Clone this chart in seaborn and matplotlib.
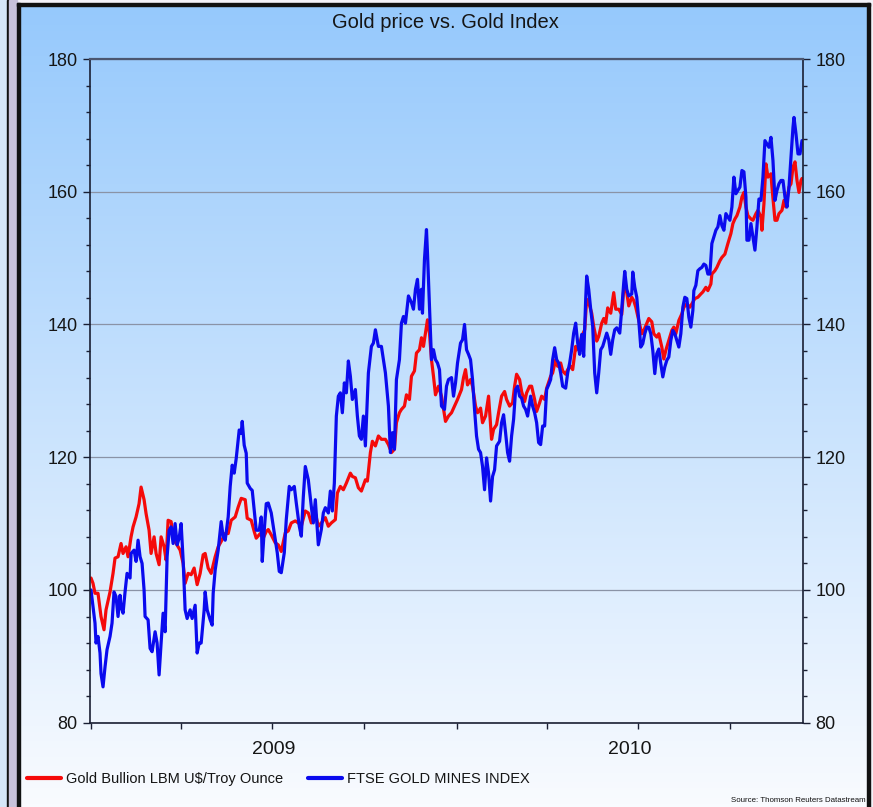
import numpy as np
import pandas as pd
import matplotlib
matplotlib.use("Agg")
import matplotlib.pyplot as plt
import matplotlib.dates as mdates
from matplotlib.ticker import MultipleLocator, NullFormatter
from matplotlib.patches import Rectangle
from matplotlib.lines import Line2D
import seaborn as sns

# ---------------- data ----------------
TITLE = "Gold price vs. Gold Index"
SERIES = ["Gold Bullion LBM U$/Troy Ounce", "FTSE GOLD MINES INDEX"]
COLORS = ["#f50a0a", "#0a0aee"]
START = "2009-01-01"
YEAR_LABELS = ["2009", "2010"]
SOURCE = "Source: Thomson Reuters Datastream"

# days since 2009-01-01
gold_days = [0, 2, 4, 7, 10, 13, 15, 19, 22, 24, 27, 30, 32, 35, 37, 40, 42, 45, 48, 50,
             53, 55, 58, 60, 63, 65, 68, 70, 73, 75, 77, 80, 82, 85, 89, 92, 94, 97, 100, 103,
             106, 109, 112, 114, 117, 120, 124, 127, 130, 134, 137, 140, 144, 147, 150, 154, 156, 160, 163, 165,
             169, 172, 175,
             177, 180, 184, 187, 190, 194, 197, 200, 204, 207, 210, 214, 217, 220, 224, 227, 230, 234, 237, 240,
             244, 246, 249, 252, 255, 259, 261, 264, 267, 270, 274, 276, 279, 281, 284, 287, 290, 294, 297, 300,
             303, 305, 308, 310, 313, 315, 318, 320, 323, 325, 328, 330, 332, 334, 336, 338, 340, 342, 344, 347,
             350, 354, 357,
             360, 363, 366, 370, 372, 374, 376, 379, 381, 384, 386, 389, 391, 394, 397, 400, 402, 405, 407,
             410, 413, 415, 418, 421, 423, 425, 428, 430, 433, 435, 438, 440, 443, 445, 448, 450, 453, 455, 459,
             461, 464, 466, 469, 471, 474, 476, 479, 481, 484, 485, 488, 490, 493, 495, 497, 500, 502, 505, 507,
             510, 512, 514, 516, 519, 522, 524, 527, 530, 532, 534, 537,
             540, 542, 544, 547, 550, 552, 554, 557, 560, 562, 565, 567, 570, 572, 574, 577, 580, 582, 584,
             587, 590, 592, 595, 598, 600, 603, 606, 609, 611, 614, 616, 619, 620, 623, 625, 628, 630, 633, 636,
             639, 641, 643, 645, 648, 650, 652, 654, 656, 659, 661, 664, 666, 669, 670, 672, 674, 676, 679, 680,
             683, 685, 687, 690, 692, 694, 697, 699, 701, 703, 705, 707, 709, 710]
gold_vals = [101.8, 101, 99.5, 99.5, 96, 94, 97, 99.7, 102.5, 104.8, 105, 107, 105.5, 106.5, 105, 108, 109.5, 111, 113, 115.5,
             113.6, 111.5, 109, 105.5, 108, 105.5, 103.8, 108, 106.5, 104.5, 110.5, 110.3, 108, 107, 106, 104, 101, 102.5, 102.3, 103.3,
             100.8, 102.5, 105.3, 105.5, 103.3, 102.5, 105, 106.5, 107.3, 108.5, 108.5, 110.5, 111, 112.5, 113.8, 113.6, 110.8, 110.5, 108.8, 107.8,
             108.5, 107.8, 108.8,
             109.1, 108.3, 107.1, 106.8, 105.8, 108.6, 108.9, 110.1, 110.4, 110.1, 109.6, 111.9, 111.6, 110.1, 111.6, 109.6, 110.1, 110.9, 109.6, 110.1,
             110.6, 114.6, 115.6, 115.1, 116.1, 117.6, 117.1, 116.9, 115.4, 114.9, 116.6, 116.4, 120.7, 122.4, 121.7, 123.2, 122.7, 122.7, 121.9, 120.7,
             121.2, 125.2, 126.7, 127.2, 127.7, 129.4, 128.7, 132.2, 133, 135.7, 136.2, 138, 136.7, 138.7, 140.7, 138.7, 134.7, 132.2, 129.4, 130.7,
             129.2, 125.4, 126.2,
             126.7, 127.7, 128.7, 130.2, 132, 133.2, 130.9, 131.7, 130.7, 127.7, 126.7, 127.4, 125.2, 126.2, 129.2, 122.7, 124.2, 124.9, 126.7,
             129.2, 129.9, 128.7, 127.7, 128.2, 130.7, 132.5, 131.7, 129.9, 128.4, 129.7, 130.7, 130.7, 128.7, 126.9, 128.2, 129.2, 128.7, 130.4, 132.2,
             132.7, 134.7, 133.7, 134.2, 133, 132.5, 133.2, 133.7, 133.2, 136.7, 136.2, 137, 138.2, 139.2, 143.8, 143.3, 141.7, 139.7, 137.5, 138.2,
             140.2, 140.9, 140.2, 142.5, 141.7, 144.8, 142.3, 142.3, 141.5, 145.3, 145.8, 142.8,
             144.1, 143.6, 142.6, 140.6, 138.6, 139.1, 139.8, 140.9, 140.4, 138.6, 138.1, 138.6, 136.6, 134.8, 136.1, 137.6, 139.1, 139.6, 138.6,
             140.6, 141.6, 142.6, 143.1, 142.6, 143.1, 143.9, 144.1, 144.6, 144.9, 145.6, 145.1, 146.1, 147.6, 148.1, 148.6, 149.6, 150.1, 150.6, 152.2,
             153.7, 155.2, 155.9, 156.4, 157.7, 159.2, 159.9, 157.7, 156.4, 155.9, 155.7, 156.7, 157.2, 156.2, 154.2, 158.2, 164.2, 162.2, 162.7, 160.7,
             155.7, 155.7, 156.7, 157.2, 158.7, 157.7, 160.7, 161.2, 163.7, 164.5, 161.7, 159.9, 161.7, 162]

mines_days = [0, 2, 4, 5, 7, 9, 10, 12, 14, 16, 19, 21, 23, 25, 27, 29, 30, 32, 34, 36,
              39, 40, 43, 45, 47, 49, 51, 53, 54, 57, 59, 61, 64, 66, 68, 70, 72, 74, 76, 78,
              80, 82, 84, 86, 88, 90, 92, 94, 96, 99, 101, 104, 106, 108, 110, 113, 114, 116, 119, 121,
              122, 124, 127, 130, 132, 134, 137, 139, 141, 143, 145, 148, 150, 151, 153, 155, 156, 159, 161, 163,
              165, 168, 170, 171, 173, 175,
              177, 180, 182, 184, 186, 188, 190, 193, 195, 198, 200, 203, 205, 208, 210, 212, 214, 217, 220, 222,
              224, 227, 230, 232, 234, 237, 239, 241, 243, 245, 247, 249, 251, 253, 255, 257, 259, 261, 264, 266,
              268, 270, 272, 274, 277, 280, 282, 284, 287, 290, 292, 294, 297, 299, 301, 303, 305, 308, 310, 312,
              314, 317, 320, 322, 324, 326, 328, 330, 331, 333, 335, 336, 338, 340, 342, 344, 346, 348, 350, 353,
              355, 357,
              360, 362, 364, 366, 369, 371, 373, 375, 377, 379, 381, 383, 385, 387, 389, 391, 393, 395, 397,
              399, 401, 403, 405, 408, 410, 412, 414, 416, 418, 420, 422, 424, 426, 428, 430, 432, 434, 436, 439,
              441, 443, 445, 447, 449, 451, 453, 455, 457, 459, 461, 463, 465, 467, 469, 471, 474, 476, 478, 480,
              482, 484, 486, 488, 490, 492, 494, 495, 497, 499, 501, 503, 505, 507, 509, 511, 513, 515, 517, 519,
              521, 523, 525, 528, 530, 532, 533, 535, 537,
              540, 541, 543, 545, 547, 549, 551, 553, 555, 557, 559, 561, 563, 565, 567, 569, 571, 573, 575,
              577, 579, 581, 583, 585, 587, 589, 591, 593, 595, 597, 599, 601, 602, 604, 606, 608, 610, 612, 614,
              616, 618, 620, 622, 624, 626, 628, 630, 632, 634, 636, 638, 640, 642, 644, 646, 648, 650, 652, 654,
              655, 657, 659, 661, 663, 665, 667, 669, 671, 673, 675, 677, 679, 681, 683, 685, 687, 689, 691, 693,
              695, 697, 699, 701, 702, 704, 706, 708, 710]
mines_vals = [100, 97.5, 95, 92, 93, 90.5, 87.4, 85.4, 88.4, 91, 93, 95, 99.7, 99, 96, 99.2, 97.5, 96.5, 99.7, 102.5,
              101.8, 105.5, 106, 104.3, 107.5, 105, 104, 100, 96, 95.5, 91.2, 90.7, 93.7, 92, 87.2, 92, 96.5, 93.7, 105, 109,
              109.5, 107, 110, 106.8, 107.8, 110, 104.5, 97, 95.7, 97, 95.7, 97.7, 90.5, 92, 92, 97, 99.7, 97, 95.5, 94.7,
              99.5, 103, 106, 110.3, 108, 107.5, 111, 115.6, 118.8, 117.6, 119.8, 124.1, 123.6, 125.4, 121.8, 120.6, 116.1, 115.3, 115, 112,
              109, 109, 111, 104.3, 109, 113,
              113.1, 111.6, 109.6, 107.6, 105.6, 102.8, 102.6, 105.6, 110.6, 115.6, 115.1, 115.6, 113.1, 109.6, 108.1, 114, 118.6, 116.6, 112.6, 110.1,
              113.6, 106.8, 109.1, 111.6, 112.4, 111.6, 114.9, 111.9, 116.1, 126.2, 129.2, 129.7, 126.7, 131.2, 129.7, 134.5, 132.2, 128.7, 130.2, 126.2,
              123.2, 122.7, 126.2, 121.7, 132.7, 136.7, 137.2, 139.2, 136.7, 136.7, 134.7, 132.7, 127.7, 120.7, 123.7, 121.2, 131.7, 134.7, 140.2, 141.2,
              140.2, 144.3, 143.3, 142.3, 145.3, 146.8, 142.3, 145.3, 141.7, 149.8, 154.3, 150.8, 142.8, 134.7, 136.2, 134.7, 134.2, 133.2, 127.7, 127.2,
              130.7, 131.7,
              132, 129.2, 131.2, 134.2, 137.2, 137.7, 140, 136.2, 135.5, 134.7, 131.7, 127.2, 123.2, 121.2, 120.7, 118.6, 115.1, 119.9, 117.6,
              113.4, 117.1, 118.1, 121.7, 122.4, 125.2, 126.4, 123.7, 120.7, 119.4, 123.2, 125.7, 130.2, 130.7, 129.2, 128.9, 127.7, 127.2, 126.2, 129.2,
              127.7, 126.7, 125.2, 122.2, 121.9, 124.7, 124.7, 130.2, 130.9, 131.7, 134.7, 136.5, 134.7, 134.2, 132.7, 130.7, 130.4, 132.7, 134.2, 136.2,
              138.7, 140.2, 137.2, 135.5, 138.5, 135.2, 143.8, 147.3, 145.3, 142.3, 139.7, 132.7, 129.7, 132.7, 136.2, 136.7, 137.7, 138.7, 137.7, 135.5,
              137.7, 139.2, 139.5, 138.7, 142.3, 146.3, 148, 145.3, 144.3,
              144.6, 147.9, 145.6, 144.1, 140.6, 136.6, 137.1, 138.6, 139.6, 139.6, 138.6, 136.1, 132.6, 135.6, 136.3, 134.1, 132.1, 133.6, 134.6,
              135.1, 137.6, 139.1, 138.6, 137.6, 136.6, 138.6, 142.6, 144.1, 143.9, 141.1, 139.6, 142.1, 145.1, 145.9, 148.1, 148.4, 148.6, 149.1, 148.9,
              147.6, 147.6, 152.2, 153.2, 154.2, 154.7, 156.4, 154.9, 154.2, 156.7, 156.2, 155.7, 157.7, 162.2, 159.7, 160.2, 160.7, 163.2, 163, 159.2,
              152.7, 152.7, 155.2, 153.2, 151.2, 154.7, 158.9, 158.7, 162.2, 167.7, 167.2, 166.7, 168.2, 164.7, 158.7, 160.2, 161.2, 161.7, 161.7, 159.2,
              157.7, 160.7, 165.2, 169.7, 171.2, 168.7, 165.7, 165.7, 167.7]

# ---------------- build long-form table ----------------
start = pd.Timestamp(START)
rows = []
for name, days, vals in [(SERIES[0], gold_days, gold_vals), (SERIES[1], mines_days, mines_vals)]:
    for d, v in zip(days, vals):
        rows.append({"date": start + pd.Timedelta(days=d), "value": v, "series": name})
df = pd.DataFrame(rows)

# ---------------- style ----------------
sns.set_theme(style="white")
plt.rcParams["font.family"] = ["Liberation Sans", "DejaVu Sans"]

W, H = 873, 807
fig = plt.figure(figsize=(W / 100, H / 100), dpi=100)

# background: slide frame + gradient panel
bg = fig.add_axes([0, 0, 1, 1], zorder=-10)
bg.set_axis_off()
grad = np.linspace(0, 1, 256)[:, None, None]
top_c = np.array([150, 201, 252]) / 255.0
bot_c = np.array([249, 251, 255]) / 255.0
img = top_c + (bot_c - top_c) * grad
img = np.repeat(img, 2, axis=1)
bg.add_patch(Rectangle((0, 0), W, H, color="#f3f2f8", zorder=0))
bg.imshow(img, extent=(20, 867, H, 6), aspect="auto", zorder=1, origin="upper")
bg.add_patch(Rectangle((0, 0), 7, H, color="#d6e6f8", zorder=2))
bg.add_patch(Rectangle((7, 0), 2, H, color="#111111", zorder=2))
bg.add_patch(Rectangle((9, 0), 8, H, color="#c8c2da", zorder=2))
bg.add_patch(Rectangle((17, 3), 3, H, color="#111111", zorder=2))
bg.add_patch(Rectangle((17, 3), 853, 3, color="#111111", zorder=2))
bg.add_patch(Rectangle((867, 3), 3, H, color="#111111", zorder=2))
bg.set_xlim(0, W)
bg.set_ylim(H, 0)

# main axes
ax = fig.add_axes([90 / W, 1 - 722.7 / H, (803 - 90) / W, (722.7 - 59) / H])
ax.set_facecolor("none")

sns.lineplot(data=df, x="date", y="value", hue="series", hue_order=SERIES,
             palette=dict(zip(SERIES, COLORS)), linewidth=2.3, estimator=None,
             sort=False, legend=False, ax=ax)

ax.set_xlim(pd.Timestamp("2008-12-31"), pd.Timestamp("2010-12-13"))
ax.set_ylim(80, 180)
ax.set_xlabel("")
ax.set_ylabel("")

# y axis (both sides)
ax.yaxis.set_major_locator(MultipleLocator(20))
ax.yaxis.set_minor_locator(MultipleLocator(4))
ax.tick_params(axis="y", which="both", left=True, right=True, labelleft=True,
               labelright=True, direction="out", color="#1a1f33",
               labelcolor="#151515", labelsize=13)
ax.tick_params(axis="y", which="major", length=5, width=1, pad=4)
ax.tick_params(axis="y", which="minor", length=3, width=1)
ax.grid(axis="y", which="major", color="#8a93a6", linewidth=0.9)
ax.grid(axis="x", visible=False)

# x axis: quarterly ticks, year labels centred in each year's span
ax.xaxis.set_major_locator(mdates.MonthLocator(bymonth=[1, 4, 7, 10]))
ax.xaxis.set_major_formatter(NullFormatter())
ax.tick_params(axis="x", which="major", bottom=True, direction="out", length=4,
               width=1, color="#1a1f33")
xl0, xl1 = ax.get_xlim()
y09 = (mdates.date2num(pd.Timestamp("2009-01-01")) + mdates.date2num(pd.Timestamp("2010-01-01"))) / 2
y10 = (mdates.date2num(pd.Timestamp("2010-01-01")) + xl1) / 2
ax.set_xticks([y09, y10], YEAR_LABELS, minor=True)
ax.tick_params(axis="x", which="minor", length=0, pad=13, labelsize=14, labelcolor="#151515")

for side in ["left", "right", "bottom"]:
    ax.spines[side].set_color("#1a1f33")
    ax.spines[side].set_linewidth(1.2)
ax.spines["top"].set_color("#4b5670")
ax.spines["top"].set_linewidth(1.6)

# title
fig.text(445.5 / W, 1 - 23 / H, TITLE, ha="center", va="center",
         fontsize=14.5, color="#151515")

# legend
handles = [Line2D([], [], color=c, linewidth=3) for c in COLORS]
fig.legend(handles, SERIES, loc="center left", bbox_to_anchor=(27 / W, 1 - 779 / H),
           ncol=2, frameon=False, fontsize=10.5, handlelength=2.35,
           handletextpad=0.35, columnspacing=1.65, borderpad=0, borderaxespad=0,
           labelcolor="#151515")

# source
fig.text(866 / W, 1 - 800 / H, SOURCE, ha="right", va="center", fontsize=5.7,
         color="#111111")

fig.savefig("out.png", dpi=100)
